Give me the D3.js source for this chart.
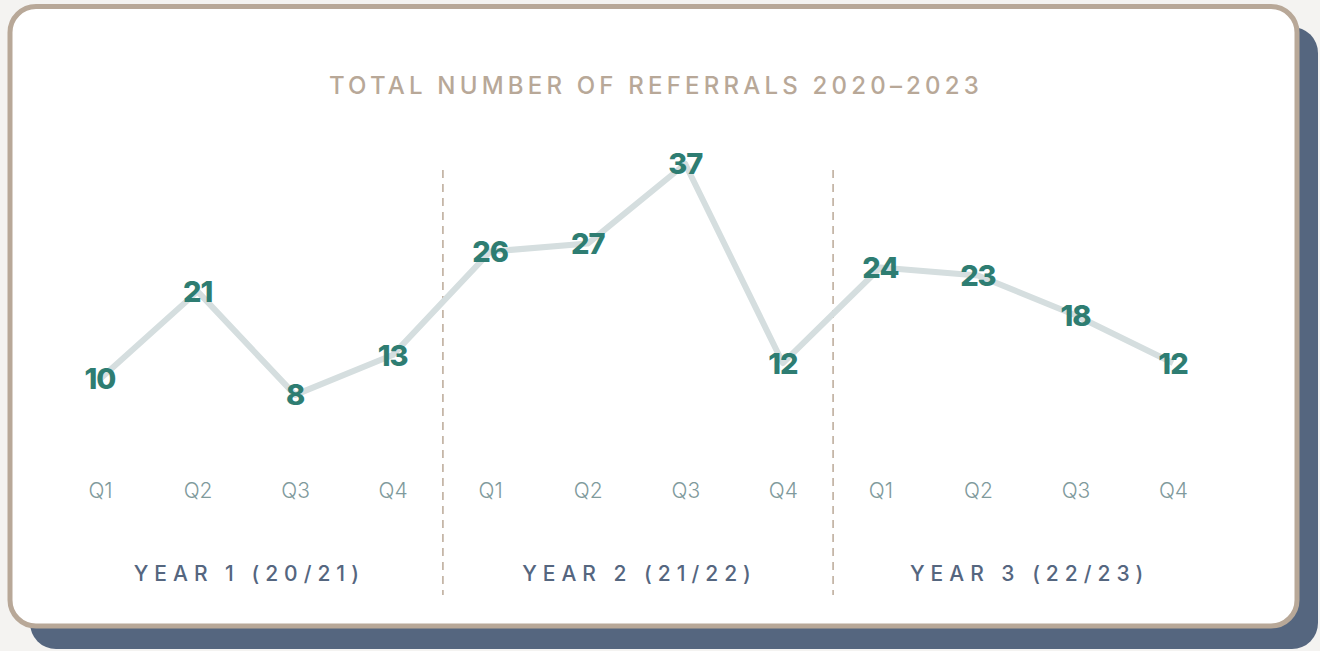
<!DOCTYPE html>
<html>
<head>
<meta charset="utf-8">
<script src="https://cdn.jsdelivr.net/npm/d3@7"></script>
<style>
  html, body { margin: 0; padding: 0; background: #f4f3f1; }
  svg { display: block; }
</style>
</head>
<body>
<svg width="1320" height="651"></svg>
<script>
var quarters = ["Q1", "Q2", "Q3", "Q4"];
var years = ["YEAR 1 (20/21)", "YEAR 2 (21/22)", "YEAR 3 (22/23)"];
var referrals = [10, 21, 8, 13, 26, 27, 37, 12, 24, 23, 18, 12];

var svg = d3.select("svg");

// card + shadow
svg.append("rect")
    .attr("x", 30).attr("y", 27)
    .attr("width", 1288).attr("height", 622)
    .attr("rx", 26)
    .attr("fill", "#55667f");

svg.append("rect")
    .attr("x", 10).attr("y", 6.5)
    .attr("width", 1287).attr("height", 619.5)
    .attr("rx", 26)
    .attr("fill", "#ffffff")
    .attr("stroke", "#b8a898")
    .attr("stroke-width", 5);

// Title
svg.append("text")
    .attr("x", 656)
    .attr("y", 94)
    .attr("text-anchor", "middle")
    .attr("font-family", "Inter, 'Noto Sans', sans-serif")
    .attr("font-size", 24)
    .attr("font-weight", 500)
    .attr("letter-spacing", 4.2)
    .attr("fill", "#b8a898")
    .text("TOTAL NUMBER OF REFERRALS 2020\u20132023");

var keys = [];
years.forEach(function(y, yi) {
    quarters.forEach(function(q) {
        keys.push(yi + "-" + q);
    });
});

var x = d3.scalePoint(keys, [100, 1173]);
var y = d3.scaleLinear([0, 40], [458.6, 140.1]);

// year dividers
[1, 2].forEach(function(i) {
    var dx = (x(keys[i * 4 - 1]) + x(keys[i * 4])) / 2 + 1.5;
    svg.append("line")
        .attr("x1", dx).attr("x2", dx)
        .attr("y1", 170).attr("y2", 595)
        .attr("stroke", "#bfae9e")
        .attr("stroke-width", 1.6)
        .attr("stroke-dasharray", "8,6");
});

// Line
var line = d3.line()
    .x(function(d, i) { return x(keys[i]); })
    .y(function(d) { return y(d); });

svg.append("path")
    .datum(referrals)
    .attr("d", line)
    .attr("fill", "none")
    .attr("stroke", "#d5dedf")
    .attr("stroke-width", 6)
    .attr("stroke-linejoin", "round");

// Value labels
svg.append("g")
    .selectAll("text")
    .data(referrals)
    .enter()
        .append("text")
        .attr("x", function(d, i) { return x(keys[i]); })
        .attr("y", function(d) { return y(d) + 10.5; })
        .attr("text-anchor", "middle")
        .attr("font-family", "Inter, 'Noto Sans', sans-serif")
        .attr("font-size", 29)
        .attr("font-weight", 800)
        .attr("letter-spacing", -1)
        .attr("fill", "#2e7d72")
        .text(function(d) { return d; });

// X Axis (quarters)
var xAxis = d3.axisBottom(x)
    .tickSize(0)
    .tickPadding(0)
    .tickFormat(function(k) { return k.split("-")[1]; });

var axisG = svg.append("g")
    .attr("transform", "translate(0, 483)")
    .call(xAxis);
axisG.select(".domain").remove();
axisG.selectAll("text")
    .attr("font-family", "Inter, 'Noto Sans', sans-serif")
    .attr("font-size", 21)
    .attr("font-weight", 300)
    .attr("fill", "#7f9a9c");

// Year labels
svg.append("g")
    .selectAll("text")
    .data(years)
    .enter()
        .append("text")
        .attr("x", function(d, i) {
            return (x(keys[i * 4]) + x(keys[i * 4 + 3])) / 2 + 3;
        })
        .attr("y", 581)
        .attr("text-anchor", "middle")
        .attr("font-family", "Inter, 'Noto Sans', sans-serif")
        .attr("font-size", 21)
        .attr("font-weight", 500)
        .attr("letter-spacing", 6)
        .attr("fill", "#55667f")
        .text(function(d) { return d; });
</script>
</body>
</html>
